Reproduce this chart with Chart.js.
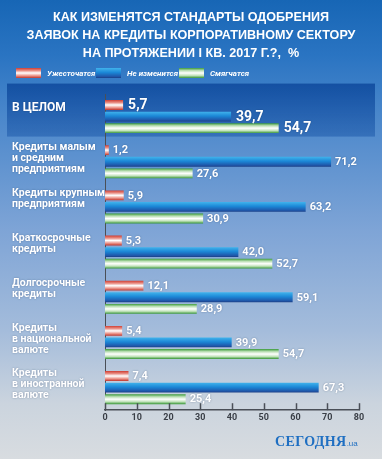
<!DOCTYPE html>
<html>
<head>
<meta charset="utf-8">
<script src="https://cdn.jsdelivr.net/npm/chart.js@4"></script>
<style>
  html, body { margin:0; padding:0; }
  body {
    width:382px; height:459px; overflow:hidden; position:relative;
    background: linear-gradient(180deg, #1766b5 0%, #2a74c2 12%, #4a87cb 25%, #7ea4d6 50%, #a4bcdb 72%, #cbd4de 88%, #d8dce0 100%);
  }
  #wrap { position:absolute; left:0; top:0; width:382px; height:459px; }
  .logo { position:absolute; left:275px; top:434px; color:#1f6fc2; font-family:'Liberation Serif', 'DejaVu Serif', serif; font-weight:bold; font-size:14px; letter-spacing:0.4px; }
  .logo span { font-family:'Liberation Sans', sans-serif; font-weight:normal; font-size:8px; letter-spacing:0; }
</style>
</head>
<body>
<div id="wrap"><canvas id="chart" width="382" height="459"></canvas></div>
<div class="logo">СЕГОДНЯ<span>.ua</span></div>
<script>
const title = ['КАК ИЗМЕНЯТСЯ СТАНДАРТЫ ОДОБРЕНИЯ', 'ЗАЯВОК НА КРЕДИТЫ КОРПОРАТИВНОМУ СЕКТОРУ', 'НА ПРОТЯЖЕНИИ I КВ. 2017 Г.?,  %'];
const categories = [
    ['В ЦЕЛОМ'],
    ['Кредиты малым', 'и средним', 'предприятиям'],
    ['Кредиты крупным', 'предприятиям'],
    ['Краткосрочные', 'кредиты'],
    ['Долгосрочные', 'кредиты'],
    ['Кредиты', 'в национальной', 'валюте'],
    ['Кредиты', 'в иностранной', 'валюте']
];
const seriesNames = ['Ужесточатся', 'Не изменится', 'Смягчатся'];
const tighten   = [5.7, 1.2, 5.9, 5.3, 12.1, 5.4, 7.4];
const unchanged = [39.7, 71.2, 63.2, 42.0, 59.1, 39.9, 67.3];
const ease      = [54.7, 27.6, 30.9, 52.7, 28.9, 54.7, 25.4];
const xTicks    = [0, 10, 20, 30, 40, 50, 60, 70, 80];

const FONT = "Roboto, 'Liberation Sans', sans-serif";
const CAT_PCT = 0.77, BAR_PCT = 0.85;

// vertical colour stops of each bar style
const stops = [
    [[0,'#cf3f35'],[0.25,'#e88a80'],[0.5,'#ffffff'],[0.75,'#ee9d93'],[1,'#c1362c']],
    [[0,'#41b3ec'],[0.45,'#1b87d6'],[0.85,'#1f57aa'],[1,'#1b3f86']],
    [[0,'#3c9b3c'],[0.25,'#b9deb3'],[0.5,'#ffffff'],[0.75,'#c2e3bb'],[1,'#379636']]
];

function makeGrad(ctx, idx, y0, y1) {
    const g = ctx.createLinearGradient(0, y0, 0, y1);
    stops[idx].forEach(s => g.addColorStop(s[0], s[1]));
    return g;
}

function barFill(c) {
    const ch = c.chart, ys = ch.scales.y, ca = ch.chartArea;
    if (!ca || !ys) return '#888';
    const slot = (ca.bottom - ca.top) / categories.length * CAT_PCT / 3;
    const yc = ys.getPixelForValue(c.dataIndex) + (c.datasetIndex - 1) * slot;
    const h = slot * BAR_PCT;
    return makeGrad(ch.ctx, c.datasetIndex, yc - h/2, yc + h/2);
}

const fmt = v => v.toFixed(1).replace('.', ',');

const decor = {
    id: 'decor',
    beforeDraw(chart) {
        const ctx = chart.ctx, ys = chart.scales.y;
        // highlighted first row
        const c0 = ys.getPixelForValue(0);
        const top = c0 - 33, bot = c0 + 20;
        const g = ctx.createLinearGradient(0, top, 0, bot);
        g.addColorStop(0, 'rgba(18,78,160,0.95)');
        g.addColorStop(1, 'rgba(30,90,170,0.55)');
        ctx.save();
        ctx.fillStyle = g;
        ctx.fillRect(7, top, 368, bot - top);
        ctx.restore();
    },
    afterDraw(chart) {
        const ctx = chart.ctx, xs = chart.scales.x, ys = chart.scales.y;
        ctx.save();
        // title, sized so the widest line spans ~329px
        ctx.font = "bold 20px 'Liberation Sans', Arial, sans-serif";
        const w = ctx.measureText(title[1]).width;
        const size = 20 * 329 / w;
        ctx.font = "bold " + size.toFixed(2) + "px 'Liberation Sans', Arial, sans-serif";
        ctx.fillStyle = '#ffffff';
        ctx.textAlign = 'center';
        ctx.textBaseline = 'middle';
        title.forEach((t, k) => ctx.fillText(t, 191, 17.5 + k * 18));
        // legend
        const lx = [16, 96, 179];
        ctx.textAlign = 'left';
        seriesNames.forEach((n, i) => {
            ctx.fillStyle = makeGrad(ctx, i, 68, 78);
            ctx.fillRect(lx[i], 68, 25, 10);
            ctx.fillStyle = '#ffffff';
            ctx.font = 'italic bold 8px ' + FONT;
            ctx.fillText(n, lx[i] + 31, 73.5);
        });
        // tick marks pointing up
        ctx.strokeStyle = '#4a4f57';
        ctx.lineWidth = 1.5;
        const yb = xs.top;
        xTicks.forEach(t => {
            const px = Math.round(xs.getPixelForValue(t)) + 0.5;
            ctx.beginPath(); ctx.moveTo(px, yb - 7); ctx.lineTo(px, yb); ctx.stroke();
        });
        // category labels
        ctx.fillStyle = '#ffffff';
        ctx.shadowColor = 'rgba(0,20,60,0.35)';
        ctx.shadowBlur = 2;
        categories.forEach((lines, i) => {
            const yc = ys.getPixelForValue(i);
            if (i === 0) {
                ctx.font = 'bold 12px ' + FONT;
                ctx.fillText(lines[0], 12, yc - 9);
            } else {
                ctx.font = 'bold 10.5px ' + FONT;
                lines.forEach((l, k) => ctx.fillText(l, 12, yc - 14 + k * 11));
            }
        });
        // value labels
        chart.data.datasets.forEach((ds, di) => {
            chart.getDatasetMeta(di).data.forEach((el, i) => {
                ctx.font = (i === 0 ? 'bold 14px ' : 'bold 11px ') + FONT;
                ctx.fillText(fmt(ds.data[i]), el.x + (i === 0 ? 5 : 4), el.y + 0.5);
            });
        });
        ctx.restore();
    }
};

new Chart(document.getElementById('chart'), {
    type: 'bar',
    data: {
        labels: categories,
        datasets: [
            { label: seriesNames[0], data: tighten },
            { label: seriesNames[1], data: unchanged },
            { label: seriesNames[2], data: ease }
        ].map(d => Object.assign(d, { backgroundColor: barFill, borderWidth: 0,
            categoryPercentage: CAT_PCT, barPercentage: BAR_PCT }))
    },
    options: {
        indexAxis: 'y',
        responsive: false,
        animation: false,
        layout: { padding: { left: 105, right: 23, top: 94, bottom: 34 } },
        plugins: {
            legend: { display: false },
            tooltip: { enabled: false },
            title: { display: false }
        },
        scales: {
            x: {
                min: 0, max: 80,
                afterBuildTicks: s => { s.ticks = xTicks.map(v => ({ value: v })); },
                ticks: { color: '#3a3f47', font: { family: FONT, size: 9, weight: 'bold' }, padding: 2 },
                grid: { display: false, drawTicks: false, tickLength: 0 },
                border: { display: true, color: '#4a4f57', width: 1.5 }
            },
            y: {
                ticks: { display: false },
                grid: { display: false, drawTicks: false, tickLength: 0 },
                border: { display: true, color: '#4a4f57', width: 1 }
            }
        }
    },
    plugins: [decor]
});
</script>
</body>
</html>
